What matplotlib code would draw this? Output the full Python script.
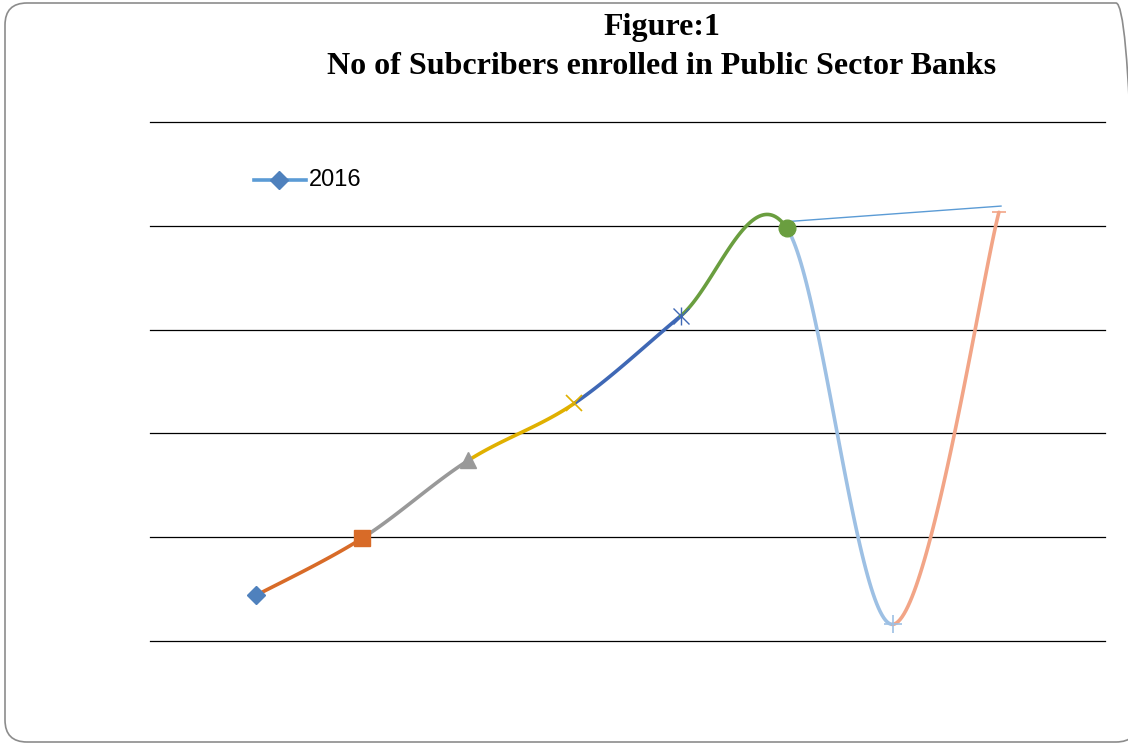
import numpy as np
import matplotlib.pyplot as plt
from matplotlib.patches import FancyBboxPatch

# data (units = gridline steps)
positions = [1, 2, 3, 4, 5, 6, 7, 8]
values = [0.44, 0.99, 1.74, 2.29, 3.13, 3.98, 0.16, 4.13]
point_colors = ['#4F81BD', '#D86B28', '#999999', '#E0B000', '#3F68B5', '#6A9E3F', '#9DC0E4', '#F2A587']
point_markers = ['D', 's', '^', 'x', 'star', 'o', '+', '_']
marker_sizes = [9, 12, 11, 12, 12, 12, 13, 10]
extra_x = [6, 8.02]
extra_y = [4.04, 4.19]


def bezier_segments(xs, ys, n=60):
    # excel-like smoothed line: cubic bezier with catmull-rom tangents
    pts = np.column_stack([xs, ys]).astype(float)
    segs = []
    for i in range(len(pts) - 1):
        p0 = pts[max(i - 1, 0)]
        p1 = pts[i]
        p2 = pts[i + 1]
        p3 = pts[min(i + 2, len(pts) - 1)]
        c1 = p1 + (p2 - p0) / 6.0
        c2 = p2 - (p3 - p1) / 6.0
        t = np.linspace(0, 1, n)[:, None]
        b = ((1 - t) ** 3) * p1 + 3 * ((1 - t) ** 2) * t * c1 + 3 * (1 - t) * t ** 2 * c2 + t ** 3 * p2
        segs.append(b)
    return segs


fig = plt.figure(figsize=(11.28, 7.44), dpi=100)
ax = fig.add_axes([150 / 1128, 1 - 641 / 744, 955 / 1128, 519 / 744])
ax.set_xlim(0, 9)
ax.set_ylim(0, 5)
for s in ax.spines.values():
    s.set_visible(False)
ax.set_xticks([])
ax.set_yticks([])
for g in range(6):
    ax.axhline(g, color='black', lw=0.9, clip_on=False, zorder=1)

segs = bezier_segments(positions, values)
for i, seg in enumerate(segs):
    ax.plot(seg[:, 0], seg[:, 1], color=point_colors[i + 1], lw=2.6,
            solid_capstyle='round', zorder=3, clip_on=False)

ax.plot(extra_x, extra_y, color='#5B9BD5', lw=1.0, zorder=3, clip_on=False)

for x, y, c, m, ms in zip(positions, values, point_colors, point_markers, marker_sizes):
    if m == 'star':
        ax.plot(x, y, marker='x', color=c, ms=ms, mew=1.0, zorder=4, clip_on=False)
        ax.plot(x, y, marker='|', color=c, ms=ms * 1.1, mew=1.0, zorder=4, clip_on=False)
    elif m in ('x', '+', '_'):
        ax.plot(x, y, marker=m, color=c, ms=ms, mew=1.2, zorder=4, clip_on=False)
    else:
        ax.plot(x, y, marker=m, color=c, mec=c, ms=ms, zorder=4, clip_on=False)

# legend
ax.plot([0.98, 1.47], [4.44, 4.44], color='#5B9BD5', lw=2.6, clip_on=False)
ax.plot(1.22, 4.44, marker='D', color='#4F81BD', ms=9, clip_on=False)
ax.text(1.5, 4.44, '2016', fontsize=17, family='Liberation Sans', va='center', ha='left')

fig.text(662 / 1128, 1 - 35 / 744, 'Figure:1', fontsize=23, fontweight='bold', family='Liberation Serif',
         ha='center', va='baseline')
fig.text(662 / 1128, 1 - 74 / 744, 'No of Subcribers enrolled in Public Sector Banks', fontsize=23,
         fontweight='bold', family='Liberation Serif', ha='center', va='baseline')

# rounded frame, in pixels; right edge sits just outside the picture
border = FancyBboxPatch((5, 2), 1133, 739,
                        boxstyle='round,pad=0,rounding_size=22',
                        transform=None, fill=False, ec='#8C8C8C', lw=1.2)
fig.patches.append(border)

fig.savefig('out.png', dpi=100)
